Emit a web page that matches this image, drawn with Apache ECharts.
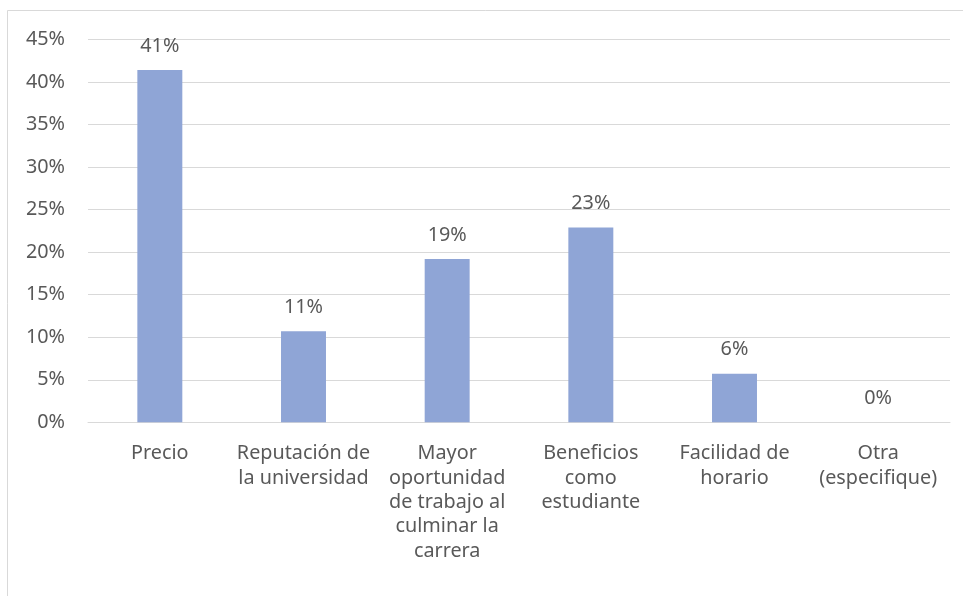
<!DOCTYPE html>
<html>
<head>
<meta charset="utf-8">
<script src="https://cdn.jsdelivr.net/npm/echarts@6/dist/echarts.min.js"></script>
<style>html,body{margin:0;padding:0;background:#fff}#c{width:963px;height:596px}</style>
</head>
<body>
<div id="c"></div>
<script>
const categories = [
  "Precio",
  "Reputación de\nla universidad",
  "Mayor\noportunidad\nde trabajo al\nculminar la\ncarrera",
  "Beneficios\ncomo\nestudiante",
  "Facilidad de\nhorario",
  "Otra\n(especifique)"
];
const values = [41.4, 10.7, 19.2, 22.9, 5.7, 0];
const yTicks = [0, 5, 10, 15, 20, 25, 30, 35, 40, 45];

const FONT = "Noto Sans";
const TXT = "#595959";
const FS = 19.8;
const chart = echarts.init(document.getElementById('c'), null, {renderer: 'canvas'});
chart.setOption({
  animation: false,
  backgroundColor: '#fff',
  textStyle: {fontFamily: FONT},
  graphic: [{
    type: 'rect', silent: true,
    shape: {x: 7.5, y: 10.5, width: 1200, height: 1000},
    style: {fill: 'none', stroke: '#D9D9D9', lineWidth: 1}
  }],
  grid: {left: 88, right: 13, top: 39.5, bottom: 173.7, containLabel: false},
  xAxis: {
    type: 'category',
    data: categories,
    axisLine: {show: true, lineStyle: {color: '#D9D9D9', width: 1}},
    axisTick: {show: false},
    axisLabel: {color: TXT, fontSize: FS, fontFamily: FONT, lineHeight: 24.4, margin: 19, interval: 0, align: 'center'}
  },
  yAxis: {
    type: 'value',
    min: yTicks[0], max: yTicks[yTicks.length - 1], interval: 5,
    axisLine: {show: false},
    axisTick: {show: false},
    splitLine: {lineStyle: {color: '#D9D9D9', width: 1}},
    axisLabel: {color: TXT, fontSize: FS, fontFamily: FONT, margin: 23, formatter: v => v + '%'}
  },
  series: [{
    type: 'bar',
    data: values,
    barCategoryGap: '68.7%',
    itemStyle: {color: '#8FA5D6'},
    label: {
      show: true, position: 'top', distance: 14,
      color: TXT, fontSize: FS, fontFamily: FONT,
      formatter: p => Math.round(p.value) + '%'
    }
  }]
});
</script>
</body>
</html>
